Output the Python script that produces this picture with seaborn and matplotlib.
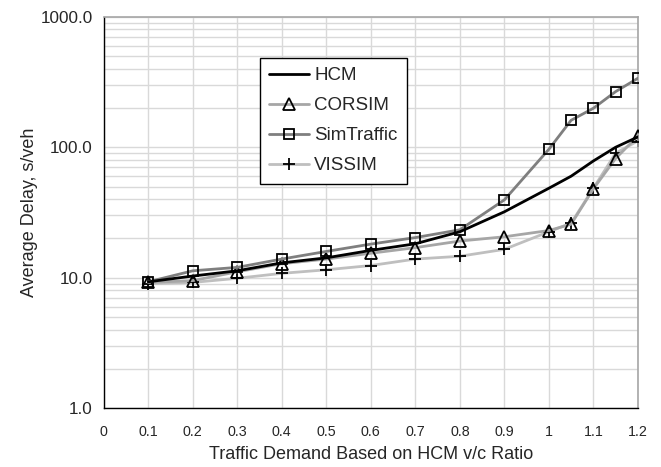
import matplotlib
matplotlib.use("Agg")
import matplotlib.pyplot as plt
from matplotlib.ticker import FixedLocator, LogLocator, NullFormatter
import numpy as np
import pandas as pd
import seaborn as sns

sns.set_theme(style="white")
plt.rcParams["font.family"] = ["Liberation Sans", "DejaVu Sans"]

vc_ratio = [0.1, 0.2, 0.3, 0.4, 0.5, 0.6, 0.7, 0.8, 0.9, 1.0, 1.05, 1.1, 1.15, 1.2]
hcm = [9.3, 10.3, 11.3, 13.0, 14.2, 16.2, 18.2, 22.5, 32.0, 48.5, 60.0, 78.5, 100.0, 120.0]
corsim = [9.2, 9.5, 11.1, 12.8, 13.9, 15.4, 17.0, 19.1, 20.6, 23.0, 25.7, 48.0, 82.0, 122.0]
simtraffic = [9.3, 11.3, 12.0, 13.9, 15.9, 18.1, 20.3, 23.3, 39.5, 96.5, 161.0, 199.0, 267.0, 338.0]
vissim = [9.0, 9.2, 9.9, 10.8, 11.5, 12.4, 13.9, 14.6, 16.5, 22.5, 26.2, 48.5, 90.0, 112.0]

x_ticks = [0, 0.1, 0.2, 0.3, 0.4, 0.5, 0.6, 0.7, 0.8, 0.9, 1.0, 1.1, 1.2]
x_labels = ["0", "0.1", "0.2", "0.3", "0.4", "0.5", "0.6", "0.7", "0.8", "0.9", "1", "1.1", "1.2"]
y_ticks = [1, 10, 100, 1000]
y_labels = ["1.0", "10.0", "100.0", "1000.0"]

series = {
    "HCM": hcm,
    "CORSIM": corsim,
    "SimTraffic": simtraffic,
    "VISSIM": vissim,
}
styles = {
    "HCM": dict(color="black", marker=None, zorder=5),
    "CORSIM": dict(color="#a6a6a6", marker="^", zorder=3),
    "SimTraffic": dict(color="#7f7f7f", marker="s", zorder=4),
    "VISSIM": dict(color="#bfbfbf", marker="+", zorder=2),
}

data = pd.concat(
    [pd.DataFrame({"vc": vc_ratio, "delay": vals, "model": name}) for name, vals in series.items()],
    ignore_index=True,
)

fig, ax = plt.subplots(figsize=(6.61, 4.67), dpi=100)
fig.subplots_adjust(left=0.157, right=0.965, top=0.964, bottom=0.126)

for name in series:
    st = styles[name]
    kw = dict(lw=2.0, color=st["color"], zorder=st["zorder"])
    if st["marker"] is not None:
        kw.update(marker=st["marker"], markersize=8 if st["marker"] != "s" else 7,
                  markerfacecolor="none", markeredgecolor="black", markeredgewidth=1.3)
    sns.lineplot(data=data[data["model"] == name], x="vc", y="delay", ax=ax,
                 label=name, errorbar=None, **kw)

ax.set_yscale("log")
ax.set_ylim(1, 1000)
ax.set_xlim(0, 1.2)
ax.yaxis.set_major_locator(FixedLocator(y_ticks))
ax.set_yticklabels(y_labels)
ax.yaxis.set_minor_locator(LogLocator(base=10, subs=np.arange(2, 10)))
ax.yaxis.set_minor_formatter(NullFormatter())
ax.set_xticks(x_ticks)
ax.set_xticklabels(x_labels)

ax.grid(True, which="major", color="#d9d9d9", lw=1.0)
ax.grid(True, which="minor", axis="y", color="#d9d9d9", lw=1.0)
ax.set_axisbelow(True)

for side in ["left", "bottom"]:
    ax.spines[side].set_color("black")
    ax.spines[side].set_linewidth(1.0)
for side in ["top", "right"]:
    ax.spines[side].set_color("#a6a6a6")
    ax.spines[side].set_linewidth(1.2)

ax.tick_params(axis="both", which="major", direction="out", length=3, width=1, color="black")
ax.tick_params(axis="x", which="major", labelsize=10.3, pad=9)
ax.tick_params(axis="y", which="major", labelsize=12.3, pad=5)
ax.tick_params(axis="y", which="minor", length=0)

ax.set_xlabel("Traffic Demand Based on HCM v/c Ratio", fontsize=13, labelpad=5)
ax.set_ylabel("Average Delay, s/veh", fontsize=13, labelpad=1.5)

leg = ax.legend(loc="upper left", bbox_to_anchor=(260 / 661, 1 - 58 / 467),
                bbox_transform=fig.transFigure, borderaxespad=0, frameon=True,
                fancybox=False, edgecolor="black", framealpha=1, fontsize=13.5,
                handlelength=2.1, handletextpad=0.3, labelspacing=0.68, borderpad=0.5)
leg.get_frame().set_linewidth(1.0)

fig.savefig("out.png", dpi=100)
